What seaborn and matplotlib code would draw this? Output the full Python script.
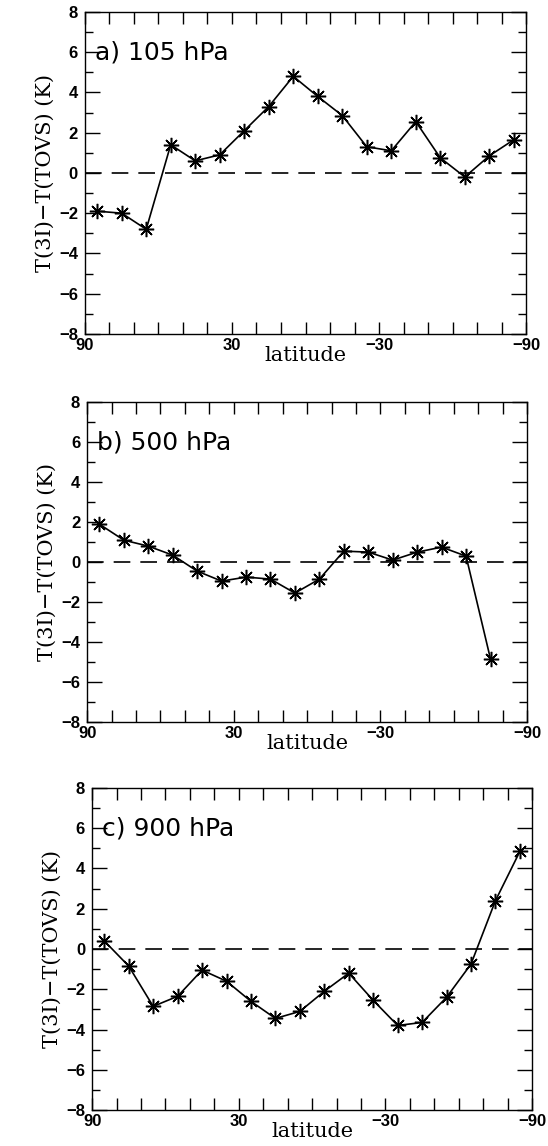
import matplotlib
matplotlib.use('Agg')
import matplotlib.pyplot as plt
from matplotlib.ticker import MultipleLocator, FixedLocator
import seaborn as sns

# zonal mean T(3I) - T(TOVS), 10 degree latitude bands
lat_105 = [85, 75, 65, 55, 45, 35, 25, 15, 5, -5, -15, -25, -35, -45, -55, -65, -75, -85]
dT_105 = [-1.9, -2.0, -2.8, 1.4, 0.6, 0.9, 2.1, 3.3, 4.8, 3.8, 2.85, 1.3, 1.1, 2.55, 0.75, -0.2, 0.85, 1.65]

lat_500 = [85, 75, 65, 55, 45, 35, 25, 15, 5, -5, -15, -25, -35, -45, -55, -65, -75]
dT_500 = [1.9, 1.1, 0.8, 0.35, -0.45, -0.95, -0.75, -0.85, -1.55, -0.85, 0.55, 0.5, 0.1, 0.5, 0.75, 0.3, -4.85]

lat_900 = [85, 75, 65, 55, 45, 35, 25, 15, 5, -5, -15, -25, -35, -45, -55, -65, -75, -85]
dT_900 = [0.4, -0.85, -2.85, -2.35, -1.05, -1.6, -2.6, -3.45, -3.1, -2.1, -1.2, -2.55, -3.8, -3.65, -2.4, -0.75, 2.4, 4.85]

panel_titles = ["a) 105 hPa", "b) 500 hPa", "c) 900 hPa"]
xtick_labels = ["90", "30", "\u221230", "\u221290"]

sns.set_style("ticks")
plt.rcParams["font.family"] = ["DejaVu Sans"]
plt.rcParams["text.color"] = "black"
plt.rcParams["axes.labelcolor"] = "black"
plt.rcParams["xtick.color"] = "black"
plt.rcParams["ytick.color"] = "black"

fig = plt.figure(figsize=(5.48, 11.46), dpi=100)
boxes = [
    [0.155, 0.7086, 0.805, 0.281],
    [0.159, 0.370, 0.803, 0.279],
    [0.168, 0.0314, 0.803, 0.281],
]
series = [(lat_105, dT_105), (lat_500, dT_500), (lat_900, dT_900)]

for box, title, (lat, dT) in zip(boxes, panel_titles, series):
    ax = fig.add_axes(box)
    ax.axhline(0, color="black", lw=1.2, dashes=(10, 6))
    sns.lineplot(x=lat, y=dT, ax=ax, color="black", linewidth=1.2,
                 marker=(8, 2, 0), markersize=11, markeredgewidth=1.1,
                 markeredgecolor="black")

    ax.set_xlim(90, -90)
    ax.set_ylim(-8, 8)
    ax.xaxis.set_major_locator(FixedLocator([90, 30, -30, -90]))
    ax.set_xticklabels(xtick_labels)
    ax.xaxis.set_minor_locator(MultipleLocator(10))
    ax.yaxis.set_major_locator(MultipleLocator(2))
    ax.yaxis.set_minor_locator(MultipleLocator(1))
    ax.set_yticklabels([f"{int(v)}".replace("-", "\u2212") for v in ax.get_yticks()])

    ax.tick_params(axis="both", which="both", direction="in", top=True, right=True,
                   color="black", width=1.0)
    ax.tick_params(axis="x", which="both", length=8.5, pad=3)
    ax.tick_params(axis="y", which="major", length=11, pad=5)
    ax.tick_params(axis="y", which="minor", length=5.5)
    for lab in ax.get_xticklabels() + ax.get_yticklabels():
        lab.set_fontweight("bold")
        lab.set_fontsize(12)
        lab.set_family("Liberation Sans")
        lab.set_color("black")

    for s in ax.spines.values():
        s.set_linewidth(1.0)
        s.set_color("black")

    ax.set_xlabel("latitude", family="DejaVu Serif", fontsize=15, labelpad=-5)
    ax.set_ylabel("T(3I)\u2212T(TOVS) (K)", family="DejaVu Serif", fontsize=15, labelpad=3)
    ax.text(86, 6, title, ha="left", va="center", fontsize=18, family="DejaVu Sans")

fig.savefig("out.png", dpi=100, facecolor="white")
